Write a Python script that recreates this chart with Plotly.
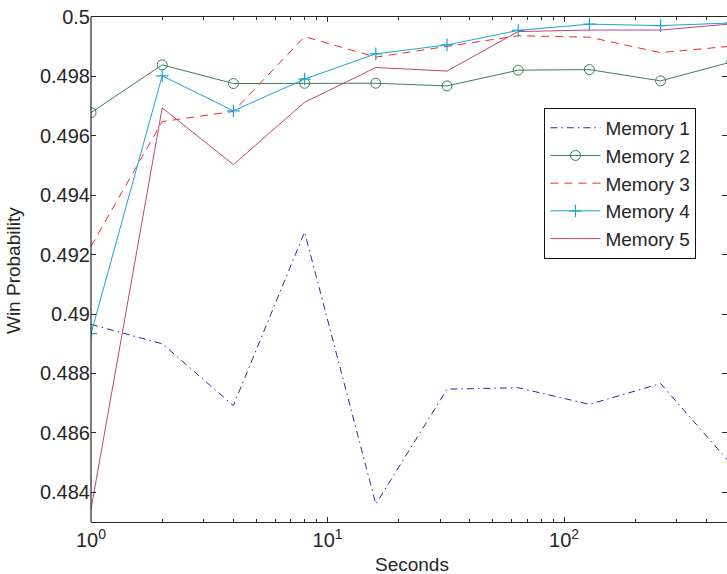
import plotly.graph_objects as go

seconds = [1, 2, 4, 8, 16, 32, 64, 128, 256, 512]
memory1 = [0.48965, 0.48900, 0.48692, 0.49276, 0.48360, 0.48747, 0.48752, 0.48696, 0.48766, 0.48492]
memory2 = [0.49678, 0.49839, 0.49776, 0.49777, 0.49777, 0.49768, 0.49821, 0.49823, 0.49785, 0.49849]
memory3 = [0.49228, 0.49648, 0.49682, 0.49934, 0.49865, 0.49900, 0.49937, 0.49932, 0.49880, 0.49902]
memory4 = [0.48934, 0.49802, 0.49684, 0.49791, 0.49876, 0.49906, 0.49955, 0.49976, 0.49971, 0.49980]
memory5 = [0.48343, 0.49694, 0.49503, 0.49713, 0.49830, 0.49818, 0.49951, 0.49956, 0.49956, 0.49977]

y_ticks = [0.484, 0.486, 0.488, 0.49, 0.492, 0.494, 0.496, 0.498, 0.5]
y_tick_labels = ["0.484", "0.486", "0.488", "0.49", "0.492", "0.494", "0.496", "0.498", "0.5"]
x_ticks = [1, 10, 100]
x_tick_labels = ["10<sup>0</sup>", "10<sup>1</sup>", "10<sup>2</sup>"]
x_minor = [2, 3, 4, 5, 6, 7, 8, 9, 20, 30, 40, 50, 60, 70, 80, 90, 200, 300, 400]

FONT = "Liberation Sans, Arial, Helvetica, sans-serif"
TXT = "#262626"
AX = "#262626"

fig = go.Figure()
fig.add_trace(go.Scatter(x=seconds, y=memory1, mode="lines", name="Memory 1",
                         line=dict(color="#2b2b9c", width=1, dash="7px,4px,1.5px,4px")))
fig.add_trace(go.Scatter(x=seconds, y=memory2, mode="lines+markers", name="Memory 2",
                         line=dict(color="#3d7d5c", width=1),
                         marker=dict(symbol="circle-open", size=10, color="#3d7d5c",
                                     line=dict(width=1, color="#3d7d5c"))))
fig.add_trace(go.Scatter(x=seconds, y=memory3, mode="lines", name="Memory 3",
                         line=dict(color="#f02828", width=1, dash="8px,6px")))
fig.add_trace(go.Scatter(x=seconds, y=memory4, mode="lines+markers", name="Memory 4",
                         line=dict(color="#1ba5d2", width=1),
                         marker=dict(symbol="cross-thin-open", size=9, color="#1ba5d2",
                                     line=dict(width=1.2, color="#1ba5d2"))))
fig.add_trace(go.Scatter(x=seconds, y=memory5, mode="lines", name="Memory 5",
                         line=dict(color="#c0457d", width=1)))

fig.update_layout(
    width=727, height=574,
    margin=dict(l=91, r=0, t=17, b=52, autoexpand=False),
    paper_bgcolor="white", plot_bgcolor="white",
    font=dict(family=FONT, size=20, color=TXT),
    showlegend=True,
    legend=dict(x=0.713, y=0.82, xanchor="left", yanchor="top",
                bgcolor="white", bordercolor="#111111", borderwidth=1,
                font=dict(family=FONT, size=19, color=TXT),
                itemwidth=50, tracegroupgap=0),
    xaxis=dict(type="log", range=[0, 2.689], automargin=False,
               tickvals=x_ticks, ticktext=x_tick_labels,
               ticks="inside", ticklen=5, tickcolor=AX,
               showline=True, linecolor=AX, linewidth=1.2, mirror="ticks",
               showgrid=False, zeroline=False,
               minor=dict(tickvals=x_minor, ticks="inside", ticklen=3, tickcolor=AX, showgrid=False),
               tickfont=dict(size=20, color=TXT)),
    yaxis=dict(range=[0.483, 0.5], automargin=False,
               tickvals=y_ticks, ticktext=y_tick_labels,
               ticks="inside", ticklen=5, tickcolor=AX,
               showline=False, mirror="ticks",
               showgrid=False, zeroline=False,
               tickfont=dict(size=20, color=TXT)),
    shapes=[dict(type="line", xref="paper", yref="paper", x0=0, x1=0, y0=0, y1=1,
                 line=dict(color=AX, width=1.2))],
    annotations=[
        dict(text="Seconds", xref="paper", yref="paper", x=0.505, y=-0.085,
             xanchor="center", yanchor="middle", showarrow=False,
             font=dict(family=FONT, size=19, color=TXT)),
        dict(text="Win Probability", xref="paper", yref="paper", x=-0.1226, y=0.497,
             xanchor="center", yanchor="middle", textangle=-90, showarrow=False,
             font=dict(family=FONT, size=19, color=TXT)),
    ],
)

fig.write_html("out.html", config={"displayModeBar": False},
               post_script="document.body.style.margin='0';document.body.style.overflow='hidden';")
